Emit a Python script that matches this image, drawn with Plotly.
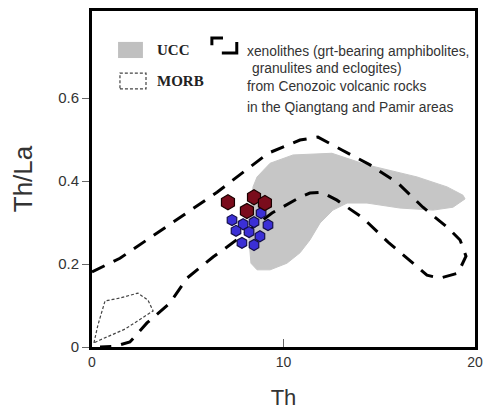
import plotly.graph_objects as go

# UCC field (Th, Th/La)
ucc_th = [8.62, 9.30, 10.50, 11.91, 12.53, 14.36, 16.97, 18.54, 19.37, 19.48, 18.85, 17.81,
          16.08, 14.36, 13.32, 12.58, 11.91, 11.38, 10.86, 10.18, 9.30, 8.62, 8.30, 8.20,
          8.30, 8.41, 8.62]
ucc_thla = [0.410, 0.443, 0.463, 0.467, 0.467, 0.439, 0.410, 0.386, 0.366, 0.357, 0.337, 0.330,
            0.335, 0.347, 0.347, 0.330, 0.299, 0.258, 0.227, 0.202, 0.186, 0.186, 0.202, 0.258,
            0.337, 0.386, 0.410]

# Xenolith envelope (dashed)
xen_th = [0.0, 1.46, 6.53, 9.19, 10.86, 11.80, 13.05, 14.52, 15.98, 17.28, 18.59, 19.22, 19.53,
          19.11, 18.17, 17.49, 16.87, 15.46, 14.15, 12.79, 12.01, 11.38, 10.86, 9.40, 7.05,
          6.32, 4.96, 4.07, 2.87, 1.98, 1.20, 0.42]
xen_thla = [0.181, 0.214, 0.373, 0.467, 0.499, 0.506, 0.475, 0.439, 0.395, 0.337, 0.287, 0.258,
            0.219, 0.178, 0.166, 0.173, 0.198, 0.253, 0.311, 0.354, 0.373, 0.371, 0.361, 0.323,
            0.241, 0.217, 0.166, 0.106, 0.058, 0.012, 0.002, 0.0]

# MORB field (dotted)
morb_th = [0.10, 0.31, 0.68, 1.46, 2.40, 2.92, 3.19, 1.72, 0.42, 0.10]
morb_thla = [0.010, 0.053, 0.111, 0.118, 0.130, 0.113, 0.087, 0.043, 0.017, 0.010]

# Samples
red_th = [7.10, 8.46, 9.03, 8.09]
red_thla = [0.349, 0.361, 0.347, 0.328]
blue_th = [7.31, 7.89, 8.46, 8.83, 9.19, 7.52, 8.20, 8.77, 7.83, 8.46]
blue_thla = [0.306, 0.296, 0.301, 0.323, 0.294, 0.280, 0.277, 0.267, 0.251, 0.246]

x_ticks = [0, 10, 20]
y_ticks = [0, 0.2, 0.4, 0.6]

fig = go.Figure()
fig.add_trace(go.Scatter(x=ucc_th, y=ucc_thla, mode="lines", fill="toself",
                         fillcolor="#c6c6c6", line=dict(color="#c6c6c6", width=1),
                         hoverinfo="skip"))
fig.add_trace(go.Scatter(x=xen_th, y=xen_thla, mode="lines",
                         line=dict(color="black", width=3, dash="14px,10px"),
                         hoverinfo="skip"))
fig.add_trace(go.Scatter(x=morb_th, y=morb_thla, mode="lines",
                         line=dict(color="#444", width=1.2, dash="3px,2px"),
                         hoverinfo="skip"))
fig.add_trace(go.Scatter(x=blue_th, y=blue_thla, mode="markers",
                         marker=dict(symbol="hexagon", size=11, color="#3b2fd6",
                                     line=dict(color="#15104a", width=1.2))))
fig.add_trace(go.Scatter(x=red_th, y=red_thla, mode="markers",
                         marker=dict(symbol="hexagon", size=15, color="#7a0c1c",
                                     line=dict(color="#1a0000", width=1.2))))

# legend decorations (paper coords)
fig.add_shape(type="rect", xref="paper", yref="paper", x0=0.068, x1=0.133, y0=0.860, y1=0.908,
              fillcolor="#c0c0c0", line=dict(width=0))
fig.add_shape(type="rect", xref="paper", yref="paper", x0=0.073, x1=0.141, y0=0.768, y1=0.815,
              line=dict(color="#444", width=1.2, dash="3px,2px"))
fig.add_shape(type="path", xref="paper", yref="paper",
              path="M 0.313,0.898 L 0.313,0.920 L 0.342,0.920", line=dict(color="black", width=3))
fig.add_shape(type="path", xref="paper", yref="paper",
              path="M 0.339,0.875 L 0.378,0.875 L 0.378,0.908", line=dict(color="black", width=3))

bold = dict(family="Liberation Serif", size=15, color="#222")
fig.add_annotation(x=0.164, y=0.884, xref="paper", yref="paper", text="<b>UCC</b>",
                   showarrow=False, xanchor="left", yanchor="middle", font=bold)
fig.add_annotation(x=0.164, y=0.792, xref="paper", yref="paper", text="<b>MORB</b>",
                   showarrow=False, xanchor="left", yanchor="middle", font=bold)
txt = dict(family="Liberation Sans", size=13.8, color="#333")
for xx, yy, t in [(0.399, 0.878, "xenolithes (grt-bearing amphibolites,"),
                  (0.412, 0.830, "granulites and eclogites)"),
                  (0.399, 0.774, "from Cenozoic volcanic rocks"),
                  (0.399, 0.714, "in the Qiangtang and Pamir areas")]:
    fig.add_annotation(x=xx, y=yy, xref="paper", yref="paper", text=t, showarrow=False,
                       xanchor="left", yanchor="middle", font=txt)

fig.update_layout(
    width=486, height=410, margin=dict(l=92, r=11, t=11, b=63),
    paper_bgcolor="white", plot_bgcolor="white", showlegend=False,
    font=dict(family="Liberation Sans", color="#333"),
)
fig.update_xaxes(range=[0, 20], tickvals=x_ticks, ticktext=[str(v) for v in x_ticks],
                 ticks="inside", ticklen=8, tickwidth=1, tickcolor="#666",
                 showline=True, linecolor="black", linewidth=3, mirror=True,
                 showgrid=False, zeroline=False, tickfont=dict(size=14, color="#333"),
                 automargin=False,
                 title=dict(text="Th", font=dict(size=22, color="#333"), standoff=22))
fig.update_yaxes(range=[0, 0.81], tickvals=y_ticks, ticktext=["0", "0.2", "0.4", "0.6"],
                 ticks="outside", ticklen=7, tickwidth=1, tickcolor="#666",
                 showline=True, linecolor="black", linewidth=3, mirror=True,
                 showgrid=False, zeroline=False, tickfont=dict(size=15, color="#333"),
                 automargin=False,
                 title=dict(text="Th/La", font=dict(size=26, color="#333"), standoff=19))

fig.write_html("out.html")
